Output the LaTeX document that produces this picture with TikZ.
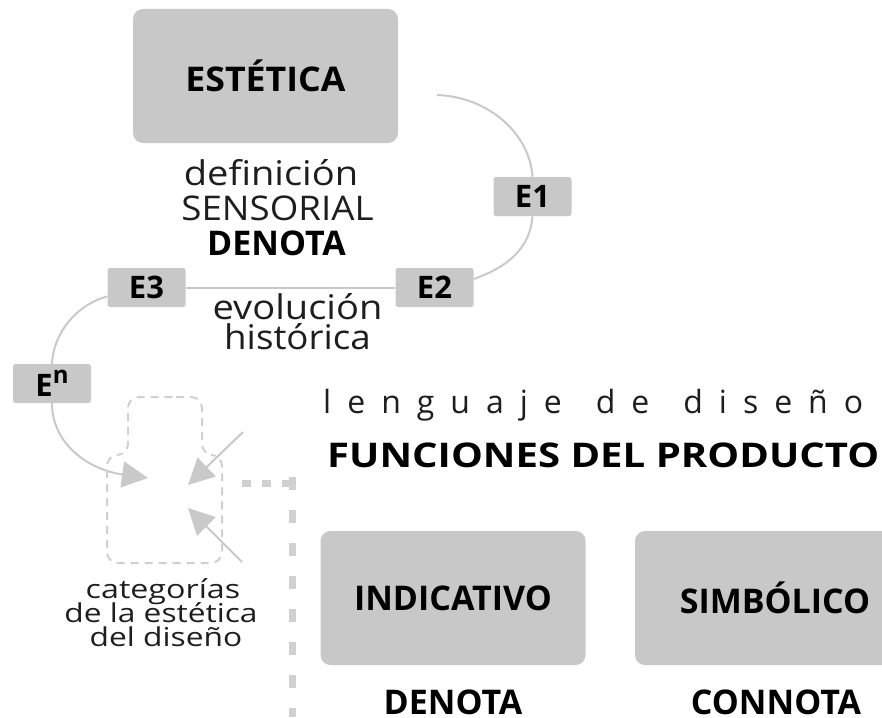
\documentclass[tikz,border=0pt]{standalone}
\usepackage{fontspec}
\setmainfont{Open Sans}
\usetikzlibrary{arrows.meta}
\definecolor{boxgray}{HTML}{C8C8C8}
\definecolor{linegray}{HTML}{C9C9C9}
\definecolor{dashgray}{HTML}{D0D0D0}
\definecolor{txt}{HTML}{1E1E1E}
\newcommand{\fbig}{\fontsize{34}{34}\selectfont\bfseries}
\newcommand{\ftag}{\fontsize{31}{31}\selectfont\bfseries}
\newcommand{\freg}{\fontsize{34}{34}\selectfont}
\newcommand{\fsml}{\fontsize{26}{26}\selectfont}
\newcommand{\wide}[2]{\scalebox{#1}[1]{#2}}
\begin{document}
\begin{tikzpicture}[x=1pt,y=-1pt,
  bigbox/.style={fill=boxgray, rounded corners=10pt, minimum width=265pt, minimum height=134pt, inner sep=0pt, font=\fbig, text=black},
  tagbox/.style={fill=boxgray, rounded corners=2.5pt, minimum width=78pt, minimum height=39pt, inner sep=0pt, font=\ftag, text=black},
  lbl/.style={anchor=base, inner sep=0pt, text=txt},
  conn/.style={draw=linegray, line width=2pt},
  arr/.style={conn, -{Triangle[length=26pt,width=26pt]}},
  outline/.style={draw=dashgray, line width=2pt, dash pattern=on 8pt off 6pt},
  thickdash/.style={draw=dashgray, line width=7pt, line cap=butt}
]
\useasboundingbox (0,0) rectangle (882,717);
\clip (0,0) rectangle (882,717);

% main boxes
\node[bigbox] (est) at (265.5,76) {\wide{1.05}{ESTÉTICA}};
\node[bigbox] (ind) at (453,598) {INDICATIVO};
\node[bigbox, minimum width=280pt] (sim) at (775,598) {SIMBÓLICO};

% tags
\node[tagbox] (e1) at (532.5,196.5) {E1};
\node[tagbox] (e2) at (434.5,287.5) {E2};
\node[tagbox] (e3) at (146.5,287.5) {E3};
\node[tagbox] (en) at (52,383.5) {E\raisebox{0.42em}{\fontsize{24}{24}\selectfont n}};

% texts
\node[lbl, font=\freg] (t1) at (271,185) {\wide{1.12}{definición}};
\node[lbl, font=\freg] (t2) at (277.5,220) {\wide{1.08}{SENSORIAL}};
\node[lbl, font=\fbig, text=black] (t3) at (276.5,255) {DENOTA};
\node[lbl, font=\freg] (t4) at (297.5,319) {\wide{1.12}{evolución}};
\node[lbl, font=\freg] (t5) at (297.5,349) {\wide{1.08}{histórica}};
\node[lbl, font=\fsml] (c1) at (163,598) {\wide{1.24}{categorías}};
\node[lbl, font=\fsml] (c2) at (161,622) {\wide{1.22}{de la estética}};
\node[lbl, font=\fsml] (c3) at (166,646) {\wide{1.22}{del diseño}};
\node[lbl, anchor=base west, font={\fontsize{32}{32}\selectfont\addfontfeature{LetterSpace=50}}] (ld) at (323,413) {lenguaje\hspace{0.3em} de\hspace{0.3em} diseño};
\node[lbl, anchor=base west, font=\fbig, text=black] (fp) at (327,467) {\wide{1.18}{FUNCIONES DEL PRODUCTO}};
\node[lbl, font=\fbig, text=black] (d2) at (453,714) {DENOTA};
\node[lbl, font=\fbig, text=black] (cn) at (776,714) {CONNOTA};

% connectors
\coordinate (s1) at (437,95);
\draw[conn] (s1) .. controls (490,97) and (530,135) .. (e1.north);
\draw[conn] (e1.south) .. controls (530,250) and (505,268) .. ([yshift=8.5pt]e2.east);
\draw[conn] (e2.west) -- (e3.east);
\draw[conn] ([yshift=-9pt]e3.west) .. controls (75,305) and (53,335) .. (en.north);
\coordinate (a1) at (148,478);
\draw[arr] (en.south) .. controls (52,445) and (90,470) .. (a1);
\coordinate (b0) at (243,432);
\coordinate (b1) at (188,485);
\draw[arr] (b0) -- (b1);
\coordinate (g0) at (242,562);
\coordinate (g1) at (188,508);
\draw[arr] (g0) -- (g1);

% dashed outline of the category shape
\draw[outline, rounded corners=11pt] (165,397) -- (202,397) -- (202,455) -- (222,455) -- (222,563) -- (107,563) -- (107,455) -- (128,455) -- (128,397) -- cycle;

% thick dashed line
\coordinate (h0) at (242,483);
\coordinate (h1) at (292,483);
\coordinate (v1) at (292,717);
\draw[thickdash, dash pattern=on 9pt off 11pt] (h0) -- ([xshift=2pt]h1);
\draw[thickdash, dash pattern=on 13pt off 20pt] ([yshift=6pt]h1) -- (v1);
\end{tikzpicture}
\end{document}
